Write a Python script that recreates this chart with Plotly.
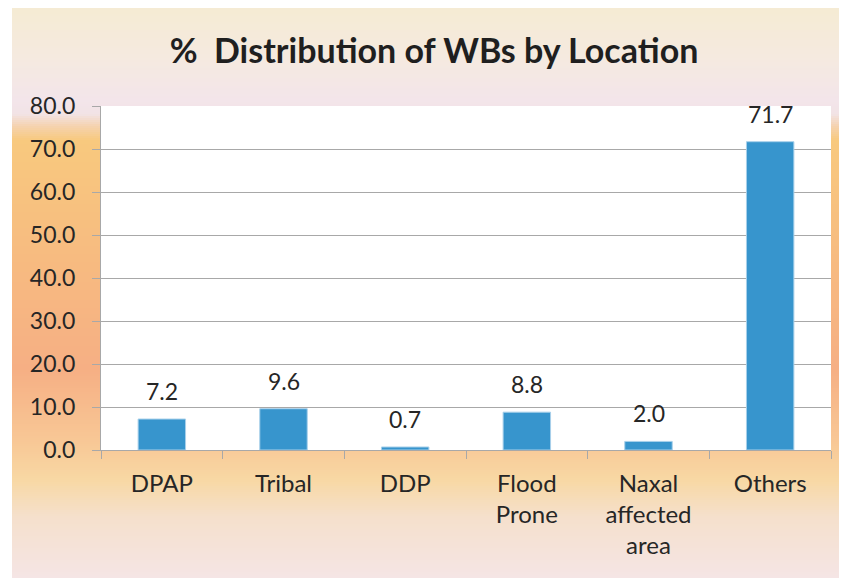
import plotly.graph_objects as go

categories = ["DPAP", "Tribal", "DDP", "Flood<br>Prone", "Naxal<br>affected<br>area", "Others"]
values = [7.2, 9.6, 0.7, 8.8, 2.0, 71.7]
y_ticks = [0, 10, 20, 30, 40, 50, 60, 70, 80]
y_tick_labels = ["0.0", "10.0", "20.0", "30.0", "40.0", "50.0", "60.0", "70.0", "80.0"]
title_text = "%\u00a0 Distribution of WBs by Location"

# the page body adds an 8px offset; layout numbers below are in figure pixels
OFF = 8
W, H = 847, 578
L, T = 101 - OFF, 106 - OFF
R = W - (831 - OFF)
B = H - (450 - OFF)
FONT = "Lato"
TXT = "#262626"

# background gradient stops (screen pixel y, colour)
stops = [
    (7, (0xF5, 0xEB, 0xD3)),
    (55, (0xF5, 0xEA, 0xDF)),
    (100, (0xF3, 0xE5, 0xEA)),
    (114, (0xF2, 0xE3, 0xE6)),
    (126, (0xF5, 0xD3, 0xB0)),
    (140, (0xF8, 0xC9, 0x7E)),
    (258, (0xF7, 0xBB, 0x80)),
    (369, (0xF6, 0xAF, 0x84)),
    (443, (0xF8, 0xC8, 0x96)),
    (480, (0xF8, 0xD8, 0xA4)),
    (517, (0xF5, 0xE0, 0xCC)),
    (578, (0xF5, 0xE5, 0xE5)),
]

def color_at(py):
    for (y0, c0), (y1, c1) in zip(stops[:-1], stops[1:]):
        if y0 <= py <= y1:
            t = (py - y0) / (y1 - y0) if y1 > y0 else 0
            c = [round(a + (b - a) * t) for a, b in zip(c0, c1)]
            return "rgb(%d,%d,%d)" % tuple(c)
    return "rgb(%d,%d,%d)" % stops[-1][1]

pw, ph = W - L - R, H - T - B
def px2x(sx):
    return (sx - OFF - L) / pw
def py2y(sy):
    return (H - B - (sy - OFF)) / ph

shapes = []
step = 2
sy = 8
while sy < H + OFF:
    shapes.append(dict(type="rect", xref="paper", yref="paper",
                       x0=px2x(12), x1=px2x(W + OFF + 2), y0=py2y(sy + step + 0.6), y1=py2y(sy),
                       fillcolor=color_at(sy + step / 2), line=dict(width=0), layer="below"))
    sy += step
shapes.append(dict(type="rect", xref="x domain", yref="y domain", x0=0, x1=1, y0=0, y1=1,
                   fillcolor="white", line=dict(width=0), layer="below"))

fig = go.Figure()
fig.add_trace(go.Bar(
    x=categories, y=values,
    marker=dict(color="#3795CD", line=dict(color="#A8D0EA", width=1)),
    hoverinfo="skip",
))

annotations = [
    dict(x=c, y=v, text="%.1f" % v, showarrow=False, yanchor="bottom", yshift=12,
         font=dict(family=FONT, size=23, color=TXT))
    for c, v in zip(categories, values)
]

fig.update_layout(
    width=W, height=H,
    margin=dict(l=L, r=R, t=T, b=B, pad=0),
    paper_bgcolor="white",
    plot_bgcolor="white",
    showlegend=False,
    bargap=0.61,
    shapes=shapes,
    annotations=annotations,
    title=dict(text="<b>" + title_text + "</b>", x=(434 - OFF) / W, xanchor="center",
               y=1 - (51 - OFF) / H, yanchor="middle", xref="container", yref="container",
               font=dict(family=FONT, size=34, color="#1F1F1F")),
    font=dict(family=FONT, color=TXT),
)

fig.update_yaxes(
    range=[0, 80], tickvals=y_ticks, ticktext=y_tick_labels,
    showgrid=True, gridcolor="#A8A8A8", gridwidth=1.3,
    showline=True, linecolor="#A8A8A8", linewidth=1.3,
    ticks="outside", ticklen=8, tickcolor="#A8A8A8", tickwidth=1.3,
    ticklabelstandoff=12,
    tickfont=dict(family=FONT, size=23, color=TXT),
    zeroline=False, fixedrange=True,
)
fig.update_xaxes(
    showline=True, linecolor="#A8A8A8", linewidth=1.3,
    ticks="outside", ticklen=8, tickcolor="#A8A8A8", tickwidth=1.3,
    tickson="boundaries", ticklabelstandoff=12,
    tickfont=dict(family=FONT, size=24, color=TXT),
    showgrid=False, fixedrange=True,
)

fig.write_html("out.html")
